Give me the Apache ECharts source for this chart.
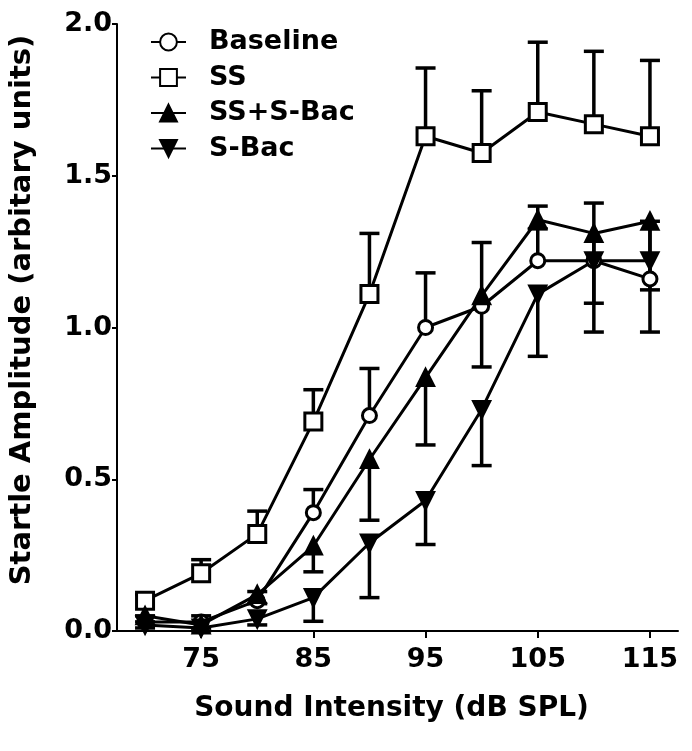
<!DOCTYPE html>
<html>
<head>
<meta charset="utf-8">
<script src="https://cdn.jsdelivr.net/npm/echarts@6/dist/echarts.min.js"></script>
<style>
html,body{margin:0;padding:0;background:#fff;}
#chart{width:692px;height:751px;}
</style>
</head>
<body>
<div id="chart"></div>
<script>
// ---- data ----
var soundDb = [70, 75, 80, 85, 90, 95, 100, 105, 110, 115];
var xTickValues = [75, 85, 95, 105, 115];
var yTickValues = [0, 0.5, 1.0, 1.5, 2.0];

var baseline    = [0.03, 0.03, 0.10, 0.39, 0.71, 1.00, 1.07, 1.22, 1.22, 1.16];
var baselineErr = [0.02, 0.02, 0.03, 0.076, 0.155, 0.18, 0.21, 0.18, 0.19, 0.19];   // drawn upward

var ss          = [0.10, 0.19, 0.32, 0.69, 1.11, 1.63, 1.575, 1.71, 1.67, 1.63];
var ssErr       = [0.02, 0.045, 0.075, 0.105, 0.20, 0.225, 0.205, 0.23, 0.24, 0.25]; // drawn upward

var ssSbac      = [0.05, 0.02, 0.12, 0.28, 0.565, 0.835, 1.105, 1.355, 1.31, 1.35];
var ssSbacErr   = [0.02, 0.01, 0.03, 0.085, 0.20, 0.222, 0.235, 0.03, 0.23, 0.226]; // drawn downward

var sbac        = [0.02, 0.01, 0.04, 0.11, 0.29, 0.43, 0.73, 1.11, 1.22, 1.22];
var sbacErr     = [0.01, 0.01, 0.02, 0.078, 0.18, 0.145, 0.185, 0.205, 0.235, 0.235]; // drawn downward

var seriesNames = ['Baseline', 'SS', 'SS+S-Bac', 'S-Bac'];

// ---- build ----
function pairs(vals) {
  return soundDb.map(function (x, i) { return [x, vals[i]]; });
}
function errPairs(vals, errs, dir) {
  return soundDb.map(function (x, i) { return [x, vals[i], vals[i] + dir * errs[i]]; });
}

var FONT = 'DejaVu Sans';

function errorSeries(name, data) {
  return {
    type: 'custom',
    name: name + ' error',
    data: data,
    z: 1,
    encode: { x: 0, y: [1, 2] },
    renderItem: function (params, api) {
      var p0 = api.coord([api.value(0), api.value(1)]);
      var p1 = api.coord([api.value(0), api.value(2)]);
      var hw = 10;
      return {
        type: 'group',
        children: [
          { type: 'line', shape: { x1: p0[0], y1: p0[1], x2: p1[0], y2: p1[1] },
            style: { stroke: '#000', lineWidth: 3.5 } },
          { type: 'line', shape: { x1: p1[0] - hw, y1: p1[1], x2: p1[0] + hw, y2: p1[1] },
            style: { stroke: '#000', lineWidth: 3.5 } }
        ]
      };
    },
    silent: true
  };
}

function lineSeries(name, data, symbol, size, rotate, filled) {
  return {
    type: 'line',
    name: name,
    data: data,
    z: 3,
    symbol: symbol,
    symbolSize: size,
    symbolRotate: rotate,
    showAllSymbol: true,
    color: '#000',
    lineStyle: { color: '#000', width: 3 },
    itemStyle: { color: filled ? '#000' : '#fff', borderColor: '#000', borderWidth: 3 },
    emphasis: { disabled: true },
    animation: false
  };
}

var chart = echarts.init(document.getElementById('chart'), null, { renderer: 'canvas' });

chart.setOption({
  animation: false,
  backgroundColor: '#fff',
  grid: { left: 117, right: 14, top: 24, bottom: 120, containLabel: false },
  legend: {
    orient: 'vertical',
    left: 145,
    top: 22,
    itemWidth: 35,
    itemHeight: 21,
    itemGap: 5.5,
    data: seriesNames,
    textStyle: { fontFamily: FONT, fontWeight: 'bold', fontSize: 27, color: '#000', lineHeight: 30, padding: [0, 0, 0, 18] },
    selectedMode: false
  },
  xAxis: {
    type: 'value',
    min: 67.5,
    max: 117.5,
    axisLine: { show: true, lineStyle: { color: '#000', width: 2 } },
    axisTick: { show: true, length: 7, lineStyle: { color: '#000', width: 2 }, customValues: xTickValues },
    axisLabel: { customValues: xTickValues, fontFamily: FONT, fontWeight: 'bold', fontSize: 27, color: '#000', margin: 15 },
    splitLine: { show: false },
    name: 'Sound Intensity (dB SPL)',
    nameLocation: 'middle',
    nameGap: 64,
    nameTextStyle: { fontFamily: FONT, fontWeight: 'bold', fontSize: 28, color: '#000', verticalAlign: 'top', padding: [0, 12, 0, 0] }
  },
  yAxis: {
    type: 'value',
    min: 0,
    max: 2,
    interval: 0.5,
    axisLine: { show: true, lineStyle: { color: '#000', width: 2 } },
    axisTick: { show: true, length: 5, lineStyle: { color: '#000', width: 2 } },
    axisLabel: { fontFamily: FONT, fontWeight: 'bold', fontSize: 27, color: '#000', margin: 5,
      formatter: function (v) { return v.toFixed(1); } },
    splitLine: { show: false }
  },
  graphic: [{
    type: 'text',
    x: 22, y: 310,
    rotation: Math.PI / 2,
    style: { text: 'Startle Amplitude (arbitary units)', font: 'bold 29px "DejaVu Sans"', fill: '#000',
      align: 'center', verticalAlign: 'middle' }
  }],
  series: [
    errorSeries('Baseline', errPairs(baseline, baselineErr, 1)),
    errorSeries('SS', errPairs(ss, ssErr, 1)),
    errorSeries('SS+S-Bac', errPairs(ssSbac, ssSbacErr, -1)),
    errorSeries('S-Bac', errPairs(sbac, sbacErr, -1)),
    lineSeries('Baseline', pairs(baseline), 'circle', 14, 0, false),
    lineSeries('SS', pairs(ss), 'rect', 17, 0, false),
    lineSeries('SS+S-Bac', pairs(ssSbac), 'triangle', 16, 0, true),
    lineSeries('S-Bac', pairs(sbac), 'triangle', 16, 180, true)
  ]
});
</script>
</body>
</html>
